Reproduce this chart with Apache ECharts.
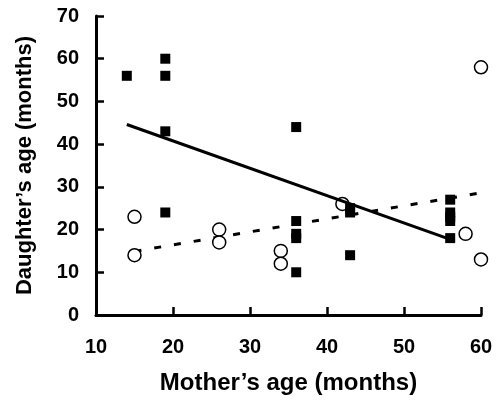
<!DOCTYPE html>
<html>
<head>
<meta charset="utf-8">
<script src="https://cdn.jsdelivr.net/npm/echarts@6/dist/echarts.min.js"></script>
<style>html,body{margin:0;padding:0;background:#fff;}#c{width:496px;height:401px;}</style>
</head>
<body>
<div id="c"></div>
<script>
// Daughters (filled squares): [mother's age, daughter's age]
const squareMotherAge   = [14, 19, 19, 19, 19, 36, 36, 36, 36, 36, 43, 43, 43, 56, 56, 56, 56, 56];
const squareDaughterAge = [56, 60, 56, 43, 24, 44, 22, 19, 18, 10, 25, 24, 14, 27, 24, 23, 22, 18];
// Open circles
const circleMotherAge   = [15, 15, 26, 26, 34, 34, 42, 58, 60, 60];
const circleDaughterAge = [23, 14, 20, 17, 15, 12, 26, 19, 13, 58];
// Regression lines (end points)
const solidLineX = [14, 56];
const solidLineY = [44.6, 17.7];
const dashLineX  = [15, 60];
const dashLineY  = [14.9, 28.6];
// Axis ticks
const xTicks = [10, 20, 30, 40, 50, 60];
const yTicks = [0, 10, 20, 30, 40, 50, 60, 70];

const zip = (a, b) => a.map((v, i) => [v, b[i]]);
const FONT = 'Liberation Sans';

function axisStyle(nameSize, labelMargin) {
  return {
    axisLine: {show: true, onZero: false, lineStyle: {color: '#000', width: 3}},
    axisTick: {show: true, inside: true, length: 8, lineStyle: {color: '#000', width: 2.5}},
    splitLine: {show: false},
    axisLabel: {show: true, color: '#000', fontFamily: FONT, fontWeight: 'bold', fontSize: 20, margin: labelMargin},
    nameTextStyle: {color: '#000', fontFamily: FONT, fontWeight: 'bold', fontSize: nameSize},
    nameLocation: 'middle'
  };
}

const chart = echarts.init(document.getElementById('c'), null, {renderer: 'canvas'});
chart.setOption({
  animation: false,
  backgroundColor: '#fff',
  grid: {left: 96, right: 15, top: 16, bottom: 86, containLabel: false},
  xAxis: Object.assign(axisStyle(24, 22), {
    type: 'value', min: xTicks[0], max: xTicks[xTicks.length - 1], interval: 10,
    name: 'Mother\u2019s age (months)', nameGap: 56
  }),
  yAxis: Object.assign(axisStyle(22, 17), {
    type: 'value', min: yTicks[0], max: yTicks[yTicks.length - 1], interval: 10,
    name: 'Daughter\u2019s age (months)', nameGap: 60, nameRotate: 90
  }),
  series: [
    {
      type: 'line', data: zip(dashLineX, dashLineY), symbol: 'none', z: 2,
      lineStyle: {color: '#000', width: 3, type: [7, 13]}
    },
    {
      type: 'scatter', data: zip(circleMotherAge, circleDaughterAge), symbol: 'circle', symbolSize: 13, z: 3,
      itemStyle: {color: '#fff', borderColor: '#000', borderWidth: 1.5, opacity: 1}
    },
    {
      type: 'line', data: zip(solidLineX, solidLineY), symbol: 'none', z: 4,
      lineStyle: {color: '#000', width: 3}
    },
    {
      type: 'scatter', data: zip(squareMotherAge, squareDaughterAge), symbol: 'rect', symbolSize: 10, z: 5,
      itemStyle: {color: '#000', opacity: 1}
    }
  ]
});
</script>
</body>
</html>
